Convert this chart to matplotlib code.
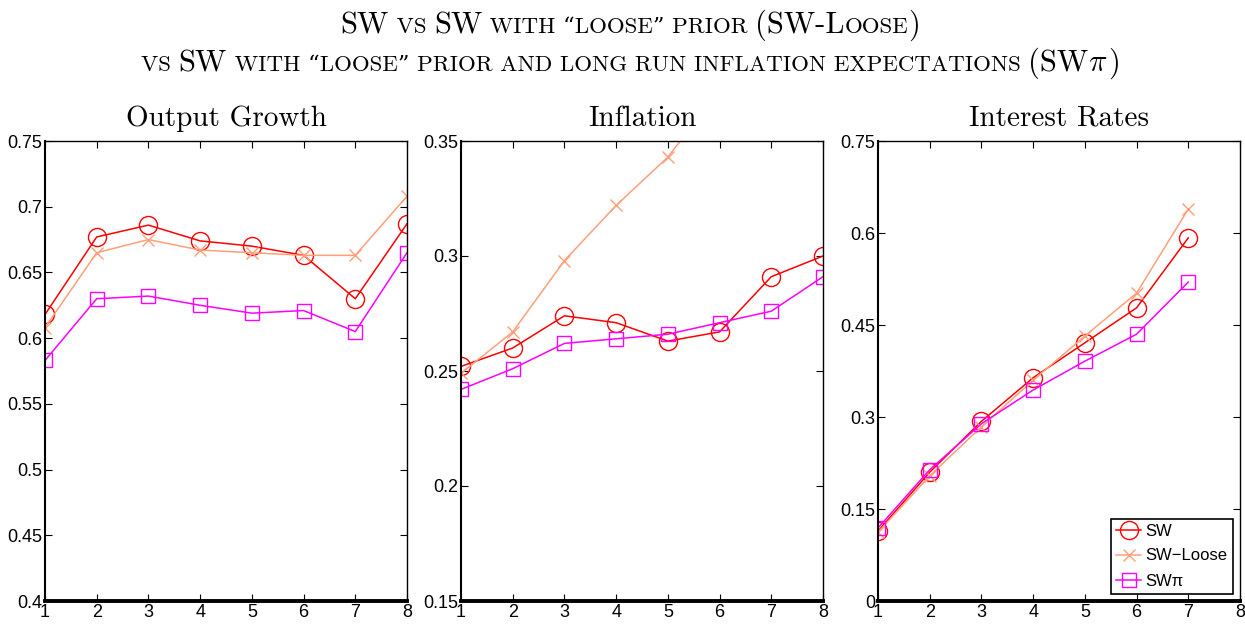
import numpy as np
import matplotlib
matplotlib.use("Agg")
import matplotlib.pyplot as plt
from matplotlib.lines import Line2D

plt.rcParams['mathtext.fontset'] = 'cm'

# data
horizons = [1, 2, 3, 4, 5, 6, 7, 8]

growth_sw = [0.618, 0.677, 0.686, 0.674, 0.670, 0.663, 0.630, 0.687]
growth_loose = [0.608, 0.665, 0.675, 0.667, 0.665, 0.663, 0.663, 0.708]
growth_pi = [0.583, 0.630, 0.632, 0.625, 0.619, 0.621, 0.605, 0.665]

infl_sw = [0.252, 0.260, 0.274, 0.271, 0.263, 0.267, 0.291, 0.300]
infl_loose = [0.249, 0.267, 0.298, 0.322, 0.343, 0.372, 0.40, 0.43]
infl_pi = [0.242, 0.251, 0.262, 0.264, 0.266, 0.271, 0.276, 0.291]

rate_horizons = [1, 2, 3, 4, 5, 6, 7]
rate_sw = [0.114, 0.210, 0.293, 0.364, 0.421, 0.478, 0.592]
rate_loose = [0.112, 0.204, 0.284, 0.360, 0.432, 0.502, 0.639]
rate_pi = [0.119, 0.214, 0.289, 0.344, 0.391, 0.435, 0.520]

panel_titles = ['Output Growth', 'Inflation', 'Interest Rates']
ylims = [(0.4, 0.75), (0.15, 0.35), (0.0, 0.75)]
yticks = [[0.4, 0.45, 0.5, 0.55, 0.6, 0.65, 0.7, 0.75],
          [0.15, 0.2, 0.25, 0.3, 0.35],
          [0, 0.15, 0.3, 0.45, 0.6, 0.75]]
yticklabels = [['0.4', '0.45', '0.5', '0.55', '0.6', '0.65', '0.7', '0.75'],
               ['0.15', '0.2', '0.25', '0.3', '0.35'],
               ['0', '0.15', '0.3', '0.45', '0.6', '0.75']]
series_names = ['SW', 'SW\u2212Loose', 'SW\u03c0']

c_sw = '#ff0000'
c_loose = '#ffa07a'
c_pi = '#ff00ff'
tick_font = ['Liberation Sans Narrow', 'Liberation Sans', 'DejaVu Sans']

W, H = 1245, 625
fig = plt.figure(figsize=(W / 100, H / 100), dpi=100)

lefts = [45, 461, 878]
width = 362
bottom, top = 601, 141

panels = [
    (horizons, growth_sw, horizons, growth_loose, horizons, growth_pi),
    (horizons, infl_sw, horizons, infl_loose, horizons, infl_pi),
    (rate_horizons, rate_sw, rate_horizons, rate_loose, rate_horizons, rate_pi),
]

axes = []
for i, (xs1, s1, xs2, s2, xs3, s3) in enumerate(panels):
    ax = fig.add_axes([lefts[i] / W, 1 - bottom / H, width / W, (bottom - top) / H])
    ax.plot(xs1, s1, color=c_sw, lw=1.1, marker='o', ms=13, mfc='none', mew=1.0)
    ax.plot(xs2, s2, color=c_loose, lw=1.1, marker='x', ms=9, mew=1.0)
    ax.plot(xs3, s3, color=c_pi, lw=1.1, marker='s', ms=10, mfc='none', mew=1.0)
    ax.set_xlim(1, 8)
    ax.set_ylim(*ylims[i])
    ax.set_xticks(horizons)
    ax.set_yticks(yticks[i])
    ax.set_yticklabels(yticklabels[i])
    ax.tick_params(direction='in', top=True, right=True, length=5, width=0.8,
                   labelsize=13, pad=2)
    for lab in ax.get_xticklabels() + ax.get_yticklabels():
        lab.set_family(tick_font)
    for sp in ax.spines.values():
        sp.set_linewidth(1.0)
    ax.spines['bottom'].set_linewidth(2.8)
    ax.spines['left'].set_linewidth(1.5)
    ax.set_title(panel_titles[i], family=['cmr10', 'DejaVu Serif'], fontsize=21, pad=11)
    axes.append(ax)

handles = [
    Line2D([], [], color=c_sw, lw=1.1, marker='o', ms=13, mfc='none'),
    Line2D([], [], color=c_loose, lw=1.1, marker='x', ms=9),
    Line2D([], [], color=c_pi, lw=1.1, marker='s', ms=10, mfc='none'),
]
leg = axes[2].legend(handles, series_names, loc='lower right', fancybox=False,
                     edgecolor='black', framealpha=1, borderaxespad=0.45,
                     handlelength=1.5, handletextpad=0.25, labelspacing=0.6,
                     borderpad=0.3, prop={'family': tick_font, 'size': 12})
leg.get_frame().set_linewidth(1.2)

# small caps title made from pieces of two sizes
big, small = 22, 16.5
title_font = ['cmr10', 'DejaVu Serif']
line1 = [('SW', big), (' VS ', small), ('SW', big), (' WITH \u201cLOOSE\u201d PRIOR ', small),
         ('(SW-L', big), ('OOSE', small), (')', big)]
line2 = [('VS ', small), ('SW', big),
         (' WITH \u201cLOOSE\u201d PRIOR AND LONG RUN INFLATION EXPECTATIONS ', small),
         ('(SW', big), (r'$\pi$', big), (')', big)]

renderer = fig.canvas.get_renderer()


def place_line(pieces, base_y):
    texts = []
    for s, size in pieces:
        t = fig.text(0, 1 - base_y / H, s, fontsize=size, family=title_font,
                     ha='left', va='baseline')
        texts.append(t)
    widths = [t.get_window_extent(renderer).width for t in texts]
    x = (W - sum(widths)) / 2 + 8
    for t, w in zip(texts, widths):
        t.set_x(x / W)
        x += w


place_line(line1, 33)
place_line(line2, 71)

fig.savefig('out.png', dpi=100)
